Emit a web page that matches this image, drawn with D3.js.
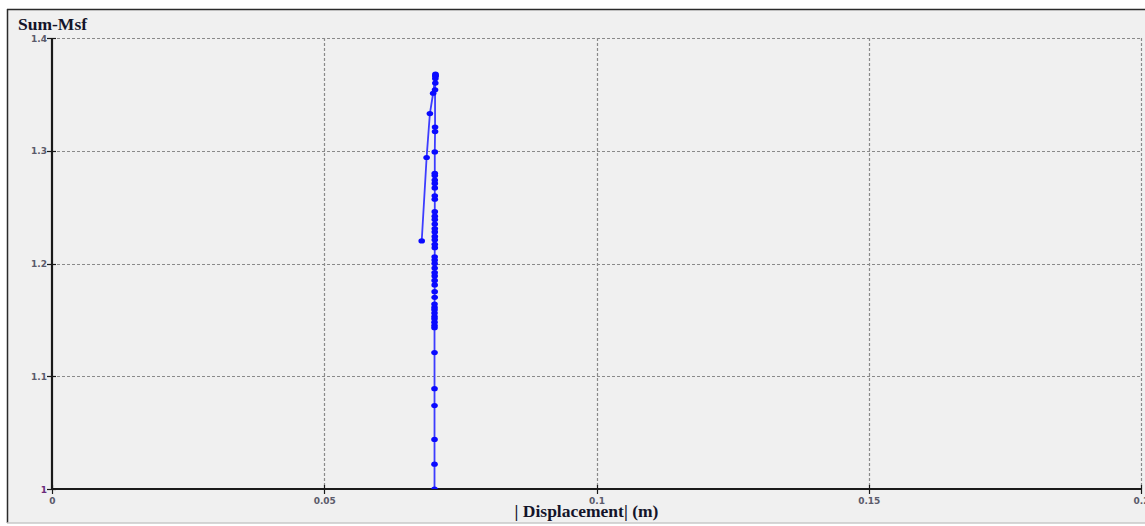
<!DOCTYPE html>
<html>
<head>
<meta charset="utf-8">
<script src="https://cdn.jsdelivr.net/npm/d3@7"></script>
<style>
html,body{margin:0;padding:0;background:#ffffff;}
svg{display:block;}
</style>
</head>
<body>
<svg id="chart" width="1145" height="526"></svg>
<script>
// ---- data ----
const xTicks = [0, 0.05, 0.1, 0.15, 0.2];
const xTickLabels = ["0", "0.05", "0.1", "0.15", "0.2"];
const yTicks = [1, 1.1, 1.2, 1.3, 1.4];
const yTickLabels = ["1", "1.1", "1.2", "1.3", "1.4"];

// |Displacement| (m) and Sum-Msf, in order of the polyline
const displacement = [
  0.07025, 0.07025, 0.07025, 0.07025, 0.07025, 0.07025, 0.07025, 0.07025, 0.07025, 0.07025,
  0.07025, 0.07025, 0.07025, 0.07025, 0.07025, 0.07028, 0.07028, 0.07028, 0.07028, 0.07028,
  0.07028, 0.07028, 0.07028, 0.07028, 0.07028, 0.0703, 0.0703, 0.0703, 0.0703, 0.0703,
  0.0703, 0.0703, 0.0703, 0.0703, 0.0703, 0.0703, 0.0703, 0.0703, 0.0703, 0.0703,
  0.0703, 0.0703, 0.0703, 0.07035, 0.07035, 0.07035, 0.0704, 0.0704, 0.07043, 0.07043,
  0.07043, 0.0700, 0.0694, 0.0688, 0.0679
];
const sumMsf = [
  1.000, 1.022, 1.044, 1.074, 1.089, 1.121, 1.143, 1.145, 1.148, 1.151,
  1.153, 1.156, 1.159, 1.161, 1.164, 1.170, 1.175, 1.181, 1.185, 1.189,
  1.192, 1.196, 1.200, 1.203, 1.206, 1.214, 1.217, 1.221, 1.224, 1.228,
  1.231, 1.235, 1.239, 1.242, 1.246, 1.257, 1.260, 1.267, 1.271, 1.274,
  1.278, 1.280, 1.299, 1.317, 1.321, 1.354, 1.360, 1.364, 1.366, 1.368,
  1.367, 1.351, 1.333, 1.294, 1.220
];

const titleText = "Sum-Msf";
const xLabelText = "| Displacement| (m)";

// ---- drawing ----
const svg = d3.select("#chart");
const W = 1145, H = 526;
const pLeft = 52, pRight = 1141, pTop = 38, pBottom = 489;

const x = d3.scaleLinear().domain([0, 0.2]).range([pLeft, pRight]);
const y = d3.scaleLinear().domain([1, 1.4]).range([pBottom, pTop]);

// frame
svg.append("rect").attr("x", 0).attr("y", 0).attr("width", W).attr("height", H).attr("fill", "#ffffff");
svg.append("rect").attr("x", 7).attr("y", 9).attr("width", W).attr("height", 514)
  .attr("fill", "#f0f0f0");
svg.append("line").attr("x1", 7).attr("x2", W).attr("y1", 9.5).attr("y2", 9.5)
  .attr("stroke", "#2a2a2a").attr("stroke-width", 1.5);
svg.append("line").attr("x1", 7.5).attr("x2", 7.5).attr("y1", 9).attr("y2", 523)
  .attr("stroke", "#2a2a2a").attr("stroke-width", 1.5);
svg.append("line").attr("x1", 7).attr("x2", W).attr("y1", 523).attr("y2", 523)
  .attr("stroke", "#c8c8c8").attr("stroke-width", 1.5);

// grid
const grid = svg.append("g");
grid.selectAll("line.gx").data(xTicks.slice(1)).join("line")
  .attr("x1", d => Math.round(x(d)) + 0.5).attr("x2", d => Math.round(x(d)) + 0.5)
  .attr("y1", pTop).attr("y2", pBottom)
  .attr("stroke", "#8a8a8a").attr("stroke-width", 1.2).attr("stroke-dasharray", "3,2");
grid.selectAll("line.gy").data(yTicks.slice(1)).join("line")
  .attr("x1", pLeft).attr("x2", pRight)
  .attr("y1", d => Math.round(y(d)) + 0.5).attr("y2", d => Math.round(y(d)) + 0.5)
  .attr("stroke", "#8a8a8a").attr("stroke-width", 1.2).attr("stroke-dasharray", "3,2");

// axes lines
svg.append("line").attr("x1", pLeft).attr("x2", pLeft).attr("y1", pTop).attr("y2", pBottom + 1)
  .attr("stroke", "#1a1a1a").attr("stroke-width", 2.2);
svg.append("line").attr("x1", pLeft).attr("x2", pRight).attr("y1", pBottom).attr("y2", pBottom)
  .attr("stroke", "#1a1a1a").attr("stroke-width", 2.2);

// ticks
svg.selectAll("line.ty").data(yTicks).join("line")
  .attr("x1", pLeft - 5).attr("x2", pLeft + 4)
  .attr("y1", d => Math.round(y(d)) + 0.5).attr("y2", d => Math.round(y(d)) + 0.5)
  .attr("stroke", "#1a1a1a").attr("stroke-width", 1.2);
svg.selectAll("line.tx").data(xTicks).join("line")
  .attr("x1", d => Math.round(x(d)) + 0.5).attr("x2", d => Math.round(x(d)) + 0.5)
  .attr("y1", pBottom - 4).attr("y2", pBottom + 5)
  .attr("stroke", "#1a1a1a").attr("stroke-width", 1.2);

// tick labels
svg.selectAll("text.yl").data(yTicks).join("text")
  .attr("x", pLeft - 5).attr("y", d => y(d) + 3.5)
  .attr("text-anchor", "end")
  .attr("font-family", "DejaVu Sans, Verdana, sans-serif").attr("font-size", 9).attr("font-weight", "bold")
  .attr("fill", (d, i) => i === 0 ? "#6a2a7a" : "#5a5a6a")
  .text((d, i) => yTickLabels[i]);
svg.selectAll("text.xl").data(xTicks).join("text")
  .attr("x", d => x(d) + 0.5).attr("y", pBottom + 15)
  .attr("text-anchor", "middle")
  .attr("font-family", "DejaVu Sans, Verdana, sans-serif").attr("font-size", 9).attr("font-weight", "bold")
  .attr("fill", "#5a5a6a")
  .text((d, i) => xTickLabels[i]);

// titles
svg.append("text").attr("x", 18).attr("y", 30)
  .attr("font-family", "Liberation Serif, Times New Roman, serif").attr("font-size", 17.5).attr("font-weight", "bold")
  .attr("fill", "#14142a").text(titleText);
svg.append("text").attr("x", 586.5).attr("y", 517)
  .attr("text-anchor", "middle")
  .attr("font-family", "Liberation Serif, Times New Roman, serif").attr("font-size", 17.5).attr("font-weight", "bold")
  .attr("fill", "#14142a").text(xLabelText);

// data
const pts = displacement.map((d, i) => [d, sumMsf[i]]);
svg.append("defs").append("clipPath").attr("id", "clip")
  .append("rect").attr("x", pLeft).attr("y", pTop - 5).attr("width", pRight - pLeft).attr("height", pBottom - pTop + 5);
const plot = svg.append("g").attr("clip-path", "url(#clip)");
plot.append("path").datum(pts)
  .attr("d", d3.line().x(d => x(d[0])).y(d => y(d[1])))
  .attr("fill", "none").attr("stroke", "#3c3cff").attr("stroke-width", 1.8);
plot.selectAll("ellipse").data(pts).join("ellipse")
  .attr("cx", d => x(d[0])).attr("cy", d => y(d[1]))
  .attr("rx", 3.3).attr("ry", 2.6)
  .attr("fill", "#0a0aff");
</script>
</body>
</html>
